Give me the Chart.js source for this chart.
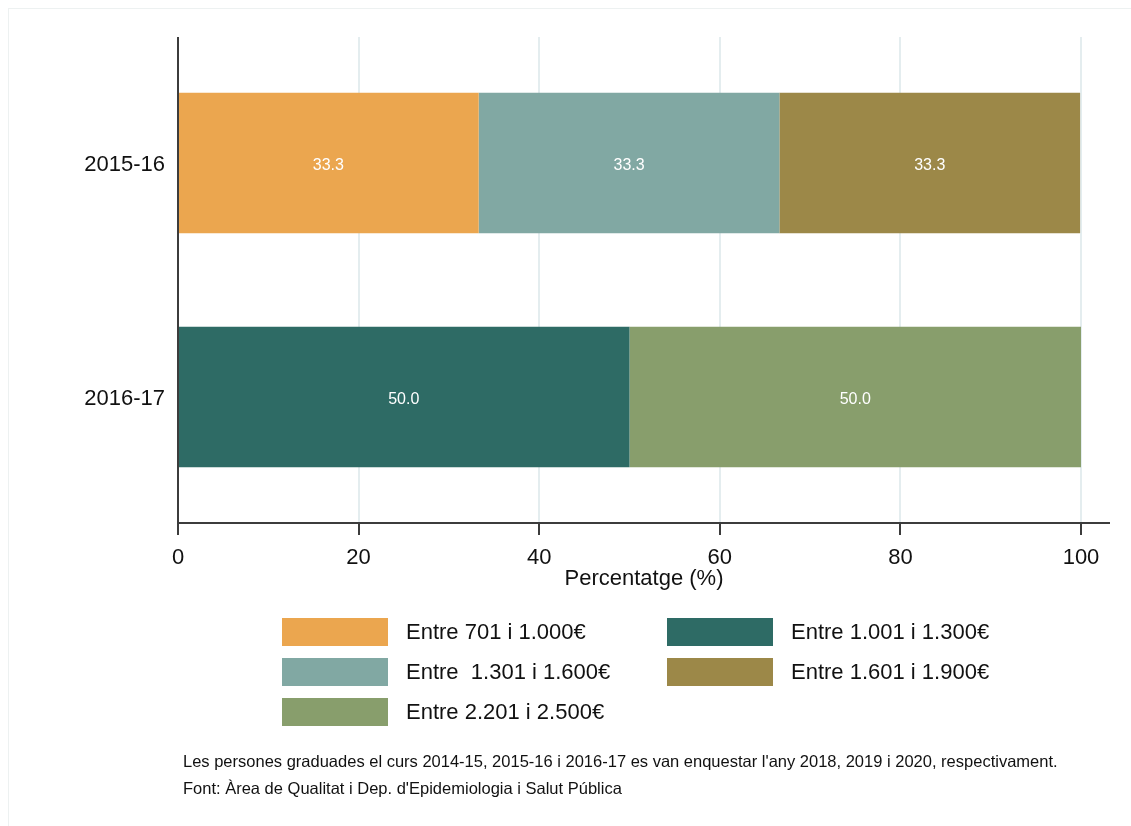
<!DOCTYPE html>
<html>
<head>
<meta charset="utf-8">
<title>Percentatge per tram salarial</title>
<script src="https://cdn.jsdelivr.net/npm/chart.js@4.4.1/dist/chart.umd.min.js"></script>
<style>
  body { margin: 0; background: #fff; }
  canvas { display: block; }
</style>
</head>
<body>
<canvas id="myChart" width="1131" height="826"></canvas>
<script>
'use strict';
// data
var courses = ['2015-16', '2016-17'];
var bandNames = ['Entre 701 i 1.000€', 'Entre 1.001 i 1.300€', 'Entre  1.301 i 1.600€', 'Entre 1.601 i 1.900€', 'Entre 2.201 i 2.500€'];
var band701 = [33.3, null];
var band1001 = [null, 50.0];
var band1301 = [33.3, null];
var band1601 = [33.3, null];
var band2201 = [null, 50.0];
var bandColors = ['#eba64f', '#2e6b65', '#81a8a3', '#9c8848', '#889e6c'];
var xTicks = [0, 20, 40, 60, 80, 100];
var axisTitle = 'Percentatge (%)';
var notes = [
  'Les persones graduades el curs 2014-15, 2015-16 i 2016-17 es van enquestar l\'any 2018, 2019 i 2020, respectivament.',
  'Font: Àrea de Qualitat i Dep. d\'Epidemiologia i Salut Pública'
];

var FONT = "'Liberation Sans', Arial, Helvetica, sans-serif";
Chart.defaults.font.family = FONT;

var seriesValues = [band701, band1001, band1301, band1601, band2201];
var datasets = [];
for (var i = 0; i < bandNames.length; i++) {
  datasets.push({
    label: bandNames[i],
    data: seriesValues[i],
    backgroundColor: bandColors[i],
    borderWidth: 0,
    categoryPercentage: 1,
    barPercentage: 0.6
  });
}

// grid, axis lines, value labels, legend and notes drawn on the canvas
var decor = {
  id: 'decor',
  beforeDraw: function(chart) {
    var c = chart.ctx;
    c.save();
    c.fillStyle = '#fff';
    c.fillRect(0, 0, chart.width, chart.height);
    c.strokeStyle = '#edf1f1';
    c.lineWidth = 1;
    c.strokeRect(8.5, 8.5, chart.width + 20, chart.height + 20);
    c.restore();
  },
  beforeDatasetsDraw: function(chart) {
    var c = chart.ctx;
    var a = chart.chartArea;
    var xs = chart.scales.x;
    c.save();
    c.strokeStyle = '#e4edef';
    c.lineWidth = 2;
    for (var i = 1; i < xTicks.length; i++) {
      var px = Math.round(xs.getPixelForValue(xTicks[i]));
      c.beginPath();
      c.moveTo(px, a.top - 9);
      c.lineTo(px, a.bottom + 9);
      c.stroke();
    }
    c.restore();
  },
  afterDatasetsDraw: function(chart) {
    var c = chart.ctx;
    var a = chart.chartArea;
    var xs = chart.scales.x;
    c.save();
    // value labels
    c.fillStyle = '#fff';
    c.font = '16px ' + FONT;
    c.textAlign = 'center';
    c.textBaseline = 'middle';
    chart.data.datasets.forEach(function(ds, di) {
      var meta = chart.getDatasetMeta(di);
      meta.data.forEach(function(bar, j) {
        if (ds.data[j] === null) return;
        var p = bar.getCenterPoint();
        c.fillText(ds.data[j].toFixed(1), p.x, p.y + 3);
      });
    });
    // axis lines
    var axisY = a.bottom + 9;
    var axisEnd = a.right + 29;
    c.strokeStyle = '#3c3c3c';
    c.lineWidth = 2;
    c.beginPath();
    c.moveTo(a.left, a.top - 9);
    c.lineTo(a.left, axisY + 12);
    c.moveTo(a.left, axisY);
    c.lineTo(axisEnd, axisY);
    for (var i = 1; i < xTicks.length; i++) {
      var px = Math.round(xs.getPixelForValue(xTicks[i]));
      c.moveTo(px, axisY);
      c.lineTo(px, axisY + 12);
    }
    c.stroke();
    // axis title
    c.fillStyle = '#111';
    c.font = '22px ' + FONT;
    c.fillText(axisTitle, (a.left + axisEnd) / 2, 579);
    c.restore();
  },
  afterDraw: function(chart) {
    var c = chart.ctx;
    c.save();
    // legend in two columns
    var colX = [282, 667];
    var rowY = [632, 672, 712];
    c.font = '22px ' + FONT;
    c.textAlign = 'left';
    c.textBaseline = 'middle';
    chart.data.datasets.forEach(function(ds, i) {
      var x = colX[i % 2];
      var y = rowY[Math.floor(i / 2)];
      c.fillStyle = ds.backgroundColor;
      c.fillRect(x, y - 14, 106, 28);
      c.fillStyle = '#111';
      c.fillText(ds.label, x + 124, y + 1);
    });
    // notes
    c.font = '16.5px ' + FONT;
    c.fillText(notes[0], 183, 762);
    c.fillText(notes[1], 183, 789);
    c.restore();
  }
};

var ctx = document.getElementById('myChart').getContext('2d');
new Chart(ctx, {
  type: 'bar',
  data: {
    labels: courses,
    datasets: datasets
  },
  options: {
    indexAxis: 'y',
    responsive: false,
    animation: false,
    events: [],
    layout: { padding: { top: 46, right: 50, bottom: 0, left: 0 } },
    plugins: {
      legend: { display: false },
      tooltip: { enabled: false }
    },
    scales: {
      x: {
        stacked: true,
        min: 0,
        max: 100,
        afterFit: function(s) { s.height = 312; },
        afterBuildTicks: function(s) {
          s.ticks = xTicks.map(function(v) { return { value: v }; });
        },
        ticks: { padding: 31, color: '#111', font: { size: 22 } },
        grid: { display: false, drawTicks: false },
        border: { display: false }
      },
      y: {
        stacked: true,
        afterFit: function(s) { s.width = 178; },
        ticks: { padding: 13, labelOffset: 2, color: '#111', font: { size: 22 } },
        grid: { display: false, drawTicks: false },
        border: { display: false }
      }
    }
  },
  plugins: [decor]
});
</script>
</body>
</html>
